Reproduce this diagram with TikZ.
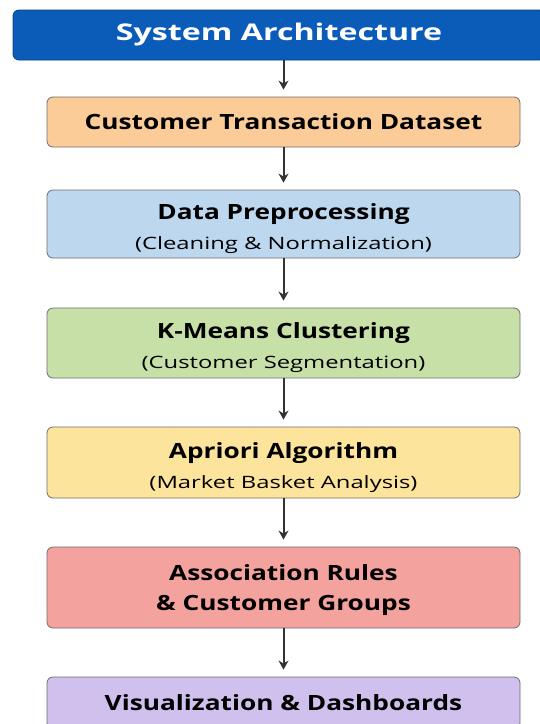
\documentclass[tikz,border=0pt]{standalone}
\usepackage{fontspec}
\setmainfont{Open Sans}
\newfontfamily\stagefont{Open Sans}[FakeStretch=1.25]
\newfontfamily\notefont{Open Sans}[FakeStretch=1.4]
\usetikzlibrary{arrows.meta}
\definecolor{archblue}{HTML}{0A5CB8}
\definecolor{dataorange}{HTML}{FBCB98}
\definecolor{prepblue}{HTML}{BDD7EE}
\definecolor{kmgreen}{HTML}{C6E0A8}
\definecolor{aprioriyellow}{HTML}{FDE49C}
\definecolor{rulesred}{HTML}{F4A29E}
\definecolor{vizpurple}{HTML}{D0C0EE}
\definecolor{edgegray}{HTML}{6E6E6E}
\def\mainsize{\fontsize{21}{30}\stagefont\bfseries}
\def\subsize{\fontsize{17}{30}\notefont\mdseries}
\def\lift#1{\rule{0pt}{#1}}
\tikzset{
	stage/.style={draw=edgegray, line width=0.8pt, rounded corners=6pt, minimum width=473pt, align=center, font=\mainsize, text=black},
	flow/.style={line width=2pt, draw=black!80, -{Stealth[length=9pt, width=10pt]}, shorten >=7pt}
}

\begin{document}
\begin{tikzpicture}[x=1pt, y=-1pt]
			%%%%% START %%%%%
			
			\useasboundingbox (0, 0) rectangle (539, 724);
			\fill[white] (0, 0) rectangle (539, 724);
			
			\node[stage, fill=archblue, draw=archblue!70!black, minimum width=532pt, minimum height=50pt, text=white, font=\fontsize{23}{30}\notefont\bfseries] (arch) at (279, 35) {System Architecture};
			
			\node[stage, fill=dataorange, minimum height=50pt] (dataset) at (283.5, 122) {Customer Transaction Dataset};
			\node[stage, fill=prepblue, minimum height=68pt] (prep) at (283.5, 224) {\lift{26pt}Data Preprocessing\\ \subsize (Cleaning \& Normalization)};
			\node[stage, fill=kmgreen, minimum height=70pt] (kmeans) at (283.5, 343) {\lift{26pt}K-Means Clustering\\ \subsize (Customer Segmentation)};
			\node[stage, fill=aprioriyellow, minimum height=71pt] (apriori) at (283.5, 462.5) {\lift{26pt}Apriori Algorithm\\ \subsize (Market Basket Analysis)};
			\node[stage, fill=rulesred, minimum height=81pt] (rules) at (283.5, 587.5) {\lift{22pt}Association Rules\\ \& Customer Groups};
			\node[stage, fill=vizpurple, minimum height=52pt] (viz) at (283.5, 703) {Visualization \& Dashboards};
			
			\draw[flow] (arch.south -| dataset.north) -- (dataset);
			\draw[flow] (dataset) -- (prep);
			\draw[flow] (prep) -- (kmeans);
			\draw[flow] (kmeans) -- (apriori);
			\draw[flow] (apriori) -- (rules);
			\draw[flow] (rules) -- (viz);
			
			%%%%% END %%%%%
		\end{tikzpicture}
\end{document}
